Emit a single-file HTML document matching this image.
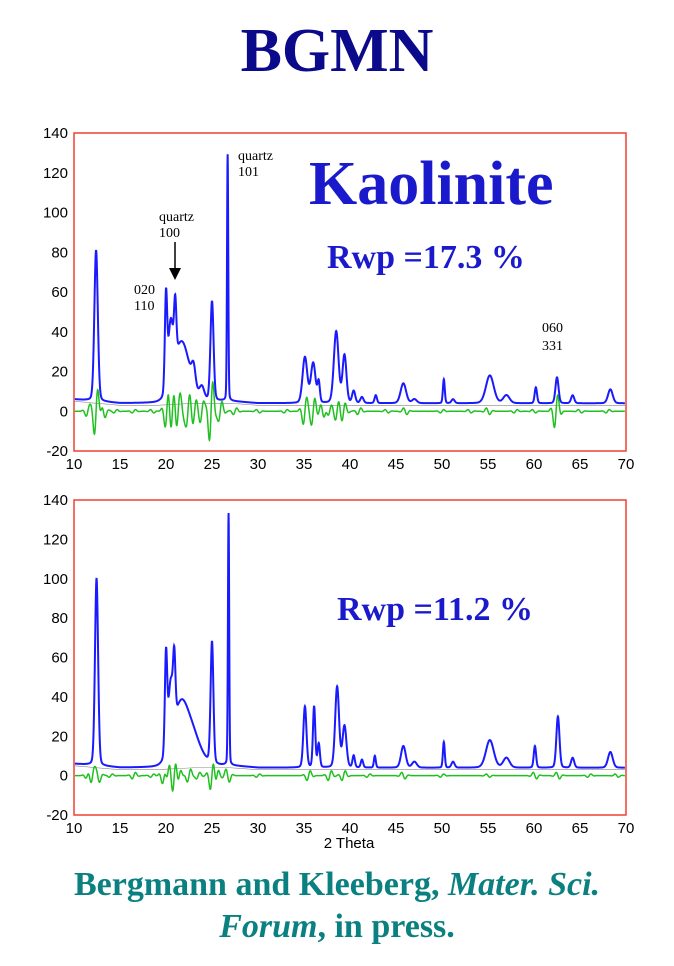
<!DOCTYPE html>
<html><head><meta charset="utf-8"><style>
body{margin:0;background:#fff;width:674px;height:966px;overflow:hidden;position:relative;font-family:"Liberation Serif",serif}
.t{position:absolute;white-space:nowrap}
</style></head><body>
<div class="t" style="left:0;width:674px;text-align:center;top:16px;font:bold 62px 'Liberation Serif',serif;color:#0a0a8a">BGMN</div>
<svg id="svg" width="674" height="966" style="position:absolute;left:0;top:0"></svg>
<div class="t" style="left:0;width:674px;text-align:center;top:866px;font:bold 34px 'Liberation Serif',serif;color:#0a8080">Bergmann and Kleeberg, <i>Mater. Sci.</i></div>
<div class="t" style="left:0;width:674px;text-align:center;top:908px;font:bold 34px 'Liberation Serif',serif;color:#0a8080"><i>Forum</i>, in press.</div>
<script>
const xTicks=[10,15,20,25,30,35,40,45,50,55,60,65,70];
const yTicks=[-20,0,20,40,60,80,100,120,140];
// top chart peaks: position (2θ), amplitude above background, half-width
const topPeakPos=[12.4,20.0,20.5,21.0,21.7,23.0,23.9,25.0,26.7,35.1,36.0,36.6,38.5,39.4,40.4,41.3,42.8,45.8,47,50.2,51.2,55.2,57,60.2,62.5,64.2,68.3];
const topPeakInt=[76,48,30,28,30,10,6,50,124,23,20,10,36,24,6,3,4,10,2,12,2,14,4,8,13,4,7];
const topPeakW=[0.22,0.15,0.3,0.15,1.0,0.25,0.3,0.2,0.08,0.3,0.3,0.15,0.3,0.25,0.2,0.2,0.15,0.35,0.3,0.12,0.2,0.5,0.4,0.15,0.2,0.2,0.3];
const topDiffPos=[11.5,12.4,13.2,14.5,16.5,18.5,20.1,20.7,21.3,21.8,22.4,23.1,23.9,24.9,25.9,27.5,30,33,35.1,36.0,37.0,37.8,38.6,39.3,41,44,46,50,53,55,58,60,62.4,65,68];
const topDiffAmp=[3,14,-4,1,1,-1,10,10,8,-5,9,6,6,18,6,2,-1,1,8,8,-4,3,5,5,2,-1,-2,1,-1,-2,1,-1,10,-1,1];
const bgLevel=[6,4,4,5,5,4,4,4,4,4];
const bgPos=[10,15,19,23,27,30,40,50,60,70];
// bottom chart
const botPeakPos=[12.45,20.0,20.5,20.9,21.6,23.0,25.0,26.8,35.1,36.1,36.6,38.6,39.4,40.4,41.3,42.7,45.8,47,50.2,51.2,55.2,57,60.1,62.6,64.2,68.3];
const botPeakInt=[95,50,30,30,30,12,62,128,31,31,12,41,21,6,4,6,11,3,13,3,14,5,11,26,5,8];
const botPeakW=[0.2,0.15,0.3,0.15,1.0,1.0,0.18,0.08,0.2,0.15,0.15,0.25,0.25,0.15,0.15,0.12,0.3,0.3,0.12,0.2,0.5,0.4,0.15,0.2,0.2,0.3];
const botDiffPos=[11.5,12.0,12.6,14,16.5,18.5,19.8,20.2,20.9,21.4,22.5,23.5,25.0,25.5,26.7,30,35.5,37.8,39.3,42,45.8,50,55,60.1,62.6,66,69];
const botDiffAmp=[2,5,-4,1,2,1,6,6,9,4,4,2,9,4,-4,1,3,3,3,1,-2,1,-1,-2,-2,1,-1];

const svg=document.getElementById('svg');
const NS='http://www.w3.org/2000/svg';
function mk(tag,at,parent){const e=document.createElementNS(NS,tag);for(const k in at)e.setAttribute(k,at[k]);(parent||svg).appendChild(e);return e;}
function bg(x){for(let i=0;i<bgPos.length-1;i++){if(x<=bgPos[i+1]){const t=(x-bgPos[i])/(bgPos[i+1]-bgPos[i]);return bgLevel[i]+t*(bgLevel[i+1]-bgLevel[i]);}}return bgLevel[bgLevel.length-1];}
function calc(x,P,I,W){let y=bg(x);for(let i=0;i<P.length;i++){const d=(x-P[i])/W[i];y+=I[i]*(0.85*Math.exp(-d*d*0.693)+0.15/(1+d*d));}return y;}
function diff(x,P,A){let y=0;for(let i=0;i<P.length;i++){const d=(x-P[i])/0.25;y+=A[i]*Math.sin(d*1.8)*Math.exp(-d*d/3);}return y;}

function chart(cfg){
  const g=mk('g',{});
  
  
  const L=74,R=626,T=cfg.top,B=cfg.bot;
  const sx=v=>L+(v-10)/60*(R-L), sy=v=>B-(v+20)/160*(B-T);
  const frame=mk('rect',{x:L,y:T,width:R-L,height:B-T,fill:'none',stroke:'#f04030','stroke-width':1.5},g);
  
  
  xTicks.forEach(v=>{const t=mk('text',{x:sx(v),y:B+18,'text-anchor':'middle','font-family':'Liberation Sans, sans-serif','font-size':15,fill:'#000'},g);t.textContent=v;
    
    });
  yTicks.forEach(v=>{const t=mk('text',{x:L-6,y:sy(v)+5,'text-anchor':'end','font-family':'Liberation Sans, sans-serif','font-size':15,fill:'#000'},g);t.textContent=v;
    
    });
  let bp='';for(let x=10;x<=70;x+=0.5)bp+=sx(x)+','+sy(bg(x)-1)+' ';
  const bl=mk('polyline',{points:bp,fill:'none',stroke:'#888','stroke-width':0.6},g);
  
  
  let dp='',cp='';
  for(let x=10.1;x<=69.9;x+=0.02){
    dp+=sx(x)+','+sy(diff(x,cfg.dp,cfg.da))+' ';
    cp+=sx(x)+','+sy(calc(x,cfg.pp,cfg.pi,cfg.pw))+' ';
  }
  const dl=mk('polyline',{points:dp,fill:'none',stroke:'#20c020','stroke-width':1.5},g);
  
  
  const cl=mk('polyline',{points:cp,fill:'none',stroke:'#1a1aff','stroke-width':2},g);
  
  
  return {g,sx,sy};
}
chart({name:'top-chart',top:133,bot:451,pp:topPeakPos,pi:topPeakInt,pw:topPeakW,dp:topDiffPos,da:topDiffAmp});
chart({name:'bottom-chart',top:500,bot:815,pp:botPeakPos,pi:botPeakInt,pw:botPeakW,dp:botDiffPos,da:botDiffAmp});
function txt(x,y,s,st,name){const t=mk('text',Object.assign({x:x,y:y},st));t.textContent=s;
  
  return t;}
const ser={'font-family':'Liberation Serif, serif','font-size':14,fill:'#000'};
txt(238,160,'quartz',ser,'label-quartz-101');txt(238,176,'101',ser,'label-quartz-101-hkl');
txt(159,221,'quartz',ser,'label-quartz-100');txt(159,237,'100',ser,'label-quartz-100-hkl');
txt(134,294,'020',ser,'label-020');txt(134,310,'110',ser,'label-110');
txt(542,332,'060',ser,'label-060');txt(542,350,'331',ser,'label-331');
const ar=mk('line',{x1:175,y1:242,x2:175,y2:272,stroke:'#000','stroke-width':1.5});


const ah=mk('polygon',{points:'169,268 181,268 175,280',fill:'#000'});


const big={'font-family':'Liberation Serif, serif','font-weight':'bold',fill:'#1a1acc'};
txt(309,204,'Kaolinite',Object.assign({'font-size':62},big),'kaolinite-title');
txt(327,268,'Rwp =17.3 %',Object.assign({'font-size':34},big),'rwp-top');
txt(337,620,'Rwp =11.2 %',Object.assign({'font-size':34},big),'rwp-bottom');
txt(349,848,'2 Theta',{'font-family':'Liberation Sans, sans-serif','font-size':15,fill:'#000','text-anchor':'middle'},'x-axis-title');
</script>
</body></html>
